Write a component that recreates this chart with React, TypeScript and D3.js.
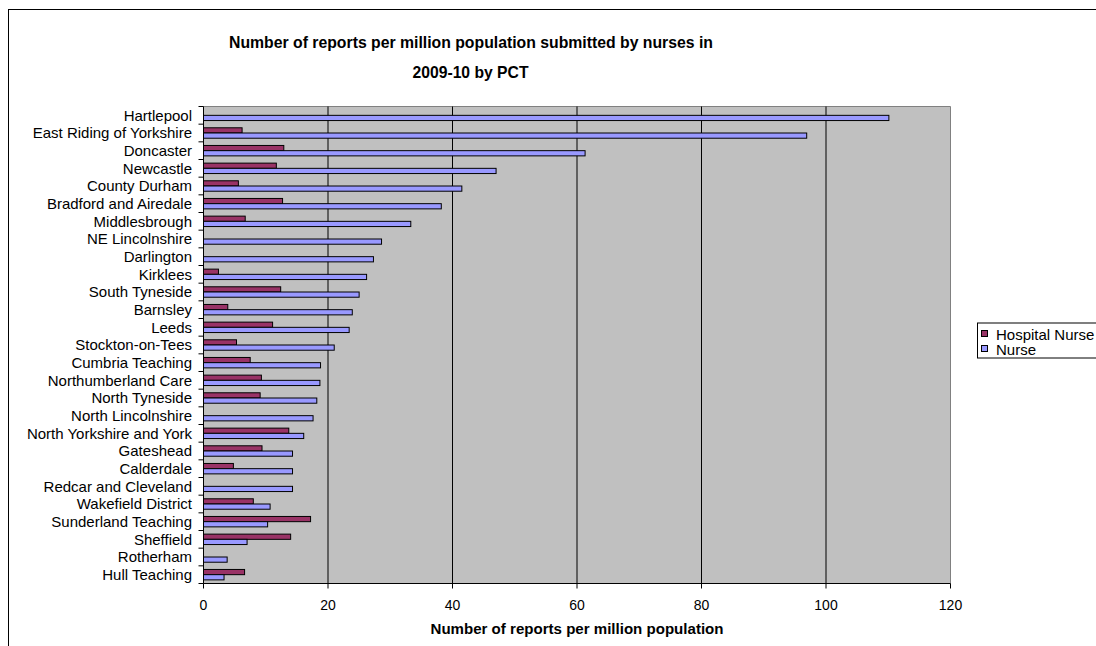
import React from "react";
import * as d3 from "d3";

const categories = [
  "Hartlepool", "East Riding of Yorkshire", "Doncaster", "Newcastle", "County Durham",
  "Bradford and Airedale", "Middlesbrough", "NE Lincolnshire", "Darlington", "Kirklees",
  "South Tyneside", "Barnsley", "Leeds", "Stockton-on-Tees", "Cumbria Teaching",
  "Northumberland Care", "North Tyneside", "North Lincolnshire", "North Yorkshire and York",
  "Gateshead", "Calderdale", "Redcar and Cleveland", "Wakefield District",
  "Sunderland Teaching", "Sheffield", "Rotherham", "Hull Teaching",
];

const hospitalNurse = [
  0, 6.2, 12.9, 11.7, 5.6, 12.7, 6.7, 0, 0, 2.4, 12.4, 3.9, 11.1, 5.3, 7.5,
  9.3, 9.1, 0, 13.7, 9.4, 4.8, 0, 8.0, 17.2, 14.0, 0, 6.6,
];

const nurse = [
  110.1, 96.9, 61.3, 47.0, 41.5, 38.2, 33.3, 28.6, 27.3, 26.2, 25.0, 23.9, 23.4, 21.0, 18.8,
  18.7, 18.2, 17.6, 16.1, 14.3, 14.3, 14.3, 10.7, 10.3, 7.0, 3.8, 3.3,
];

const xTicks = [0, 20, 40, 60, 80, 100, 120];
const seriesNames = ["Hospital Nurse", "Nurse"];

const title1 = "Number of reports per million population submitted by nurses in";
const title2 = "2009-10 by PCT";
const xTitle = "Number of reports per million population";

const FONT = "'Liberation Sans', Arial, Helvetica, sans-serif";
const COLORS = ["#993366", "#9999FF"];

export default function App() {
  const left = 203.5;
  const right = 950.5;
  const top = 106.5;
  const bottom = 583.5;

  const x = d3.scaleLinear().domain([0, 120]).range([left, right]);
  const y = d3.scaleBand<string>().domain(categories).range([top, bottom]).padding(0);
  const bw = y.bandwidth();
  const barH = bw * 0.295;
  const offset = (bw - 2 * barH) / 2;

  const series = [hospitalNurse, nurse];

  return (
    <svg
      width={1096}
      height={646}
      style={{ position: "absolute", left: 0, top: 0, background: "#fff" }}
    >
      <rect x={0} y={0} width={1096} height={646} fill="#fff" />
      {/* chart area border */}
      <rect x={8.5} y={9.5} width={1200} height={700} fill="none" stroke="#000" strokeWidth={1} />

      {/* title */}
      <text x={471} y={47.5} textAnchor="middle" fontFamily={FONT} fontWeight="bold" fontSize={17}
        textLength={484} lengthAdjust="spacingAndGlyphs">
        {title1}
      </text>
      <text x={470.5} y={78} textAnchor="middle" fontFamily={FONT} fontWeight="bold" fontSize={17}
        textLength={116} lengthAdjust="spacingAndGlyphs">
        {title2}
      </text>

      {/* plot area */}
      <rect x={left} y={top} width={right - left} height={bottom - top} fill="#C0C0C0" />
      <line x1={left} x2={right} y1={top} y2={top} stroke="#808080" />
      <line x1={right} x2={right} y1={top} y2={bottom} stroke="#808080" />

      {/* gridlines */}
      {xTicks.filter((t) => t > 0 && t < 120).map((t) => (
        <line key={"g" + t} x1={x(t)} x2={x(t)} y1={top} y2={bottom} stroke="#000" strokeWidth={1} />
      ))}

      {/* bars */}
      {series.map((vals, si) =>
        categories.map((c, i) =>
          vals[i] > 0 ? (
            <rect
              key={si + "-" + i}
              x={x(0)}
              y={(y(c) as number) + offset + si * barH}
              width={x(vals[i]) - x(0)}
              height={barH}
              fill={COLORS[si]}
              stroke="#000"
              strokeWidth={1}
            />
          ) : null
        )
      )}

      {/* y axis */}
      <line x1={left} x2={left} y1={top} y2={bottom} stroke="#000" />
      {categories.map((c, i) => (
        <line key={"yt" + i} x1={left - 5} x2={left} y1={y(c) as number} y2={y(c) as number} stroke="#000" />
      ))}
      <line x1={left - 5} x2={left} y1={bottom} y2={bottom} stroke="#000" />
      {categories.map((c) => (
        <text
          key={"yl" + c}
          x={192}
          y={(y(c) as number) + bw / 2}
          dy="0.35em"
          textAnchor="end"
          fontFamily={FONT}
          fontSize={15}
          fill="#000"
        >
          {c}
        </text>
      ))}

      {/* x axis */}
      <line x1={left} x2={right} y1={bottom} y2={bottom} stroke="#000" />
      {xTicks.map((t) => (
        <g key={"xt" + t}>
          <line x1={x(t)} x2={x(t)} y1={bottom} y2={bottom + 5} stroke="#000" />
          <text x={x(t)} y={609.5} textAnchor="middle" fontFamily={FONT} fontSize={14} fill="#000">
            {t}
          </text>
        </g>
      ))}
      <text x={(left + right) / 2} y={634} textAnchor="middle" fontFamily={FONT} fontWeight="bold" fontSize={14}
        textLength={293} lengthAdjust="spacingAndGlyphs">
        {xTitle}
      </text>

      {/* legend */}
      <rect x={977.5} y={323} width={200} height={35} fill="#fff" stroke="#000" />
      {seriesNames.map((n, i) => (
        <g key={"lg" + n}>
          <rect x={981.5} y={330.5 + i * 15} width={6} height={6} fill={COLORS[i]} stroke="#000" />
          <text x={996} y={339.5 + i * 15} fontFamily={FONT} fontSize={15} fill="#000">
            {n}
          </text>
        </g>
      ))}
    </svg>
  );
}
